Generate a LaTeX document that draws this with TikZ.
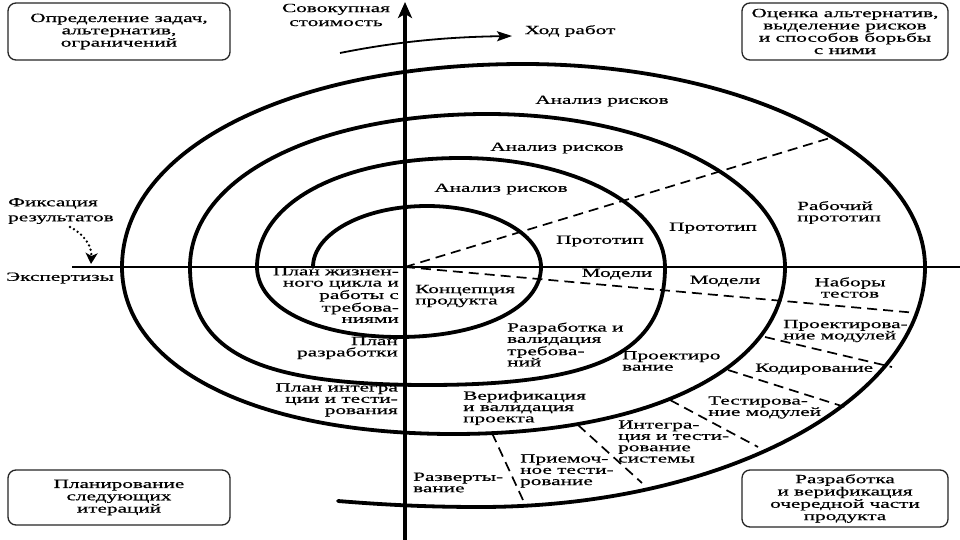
\documentclass[tikz,border=0pt]{standalone}
\usepackage{fontspec}
\setmainfont{Liberation Serif}[FakeStretch=1.7,FakeBold=0.6]
\usetikzlibrary{arrows.meta}
\begin{document}
\begin{tikzpicture}[x=1pt,y=-1pt,
  lbl/.style={inner sep=0pt, font=\fontsize{12.5}{11.3}\selectfont},
  boxnode/.style={draw=black!85, line width=1.3pt, rounded corners=8pt, inner sep=0pt, align=center, font=\fontsize{12.5}{12.3}\selectfont},
  spiral/.style={line width=3.8pt, line cap=round, line join=round},
  dsh/.style={line width=1.7pt, dash pattern=on 10pt off 6pt}
]
\useasboundingbox (0,0) rectangle (960,540);
\fill[white] (0,0) rectangle (960,540);

% corner boxes
\node[boxnode, minimum width=222pt, minimum height=57pt] (bTL) at (119,31.5) {Определение задач,\\альтернатив,\\ограничений};
\node[boxnode, minimum width=206pt, minimum height=57pt] (bTR) at (845,31.5) {Оценка альтернатив,\\выделение рисков\\и способов борьбы\\с ними};
\node[boxnode, minimum width=222pt, minimum height=55pt] (bBL) at (119,497.5) {Планирование\\следующих\\итераций};
\node[boxnode, minimum width=206pt, minimum height=57pt] (bBR) at (845,498.5) {Разработка\\и верификация\\очередной части\\продукта};

% axes
\coordinate (hL) at (72,267);
\coordinate (hR) at (960,267);
\draw[line width=1.1pt] (hL) -- (hR);
\coordinate (axB) at (405,540);
\coordinate (axT) at (405,2);
\draw[line width=3.2pt, -{Stealth[width=14pt,length=16pt,inset=4pt]}] (axB) -- (axT);

% spiral
\draw[spiral] (313,267)
  .. controls (313,233.3) and (364,206) .. (427,206)
  .. controls (490,206) and (541,233.3) .. (541,267)
  .. controls (541,307.6) and (481.4,337) .. (399,337)
  .. controls (316.6,337) and (257,307.6) .. (257,267)
  .. controls (257,203) and (340,158) .. (461,158)
  .. controls (573.7,158) and (665,206.8) .. (665,267)
  .. controls (665,352) and (598.5,385) .. (427.5,385)
  .. controls (256.5,385) and (190,352) .. (190,267)
  .. controls (190,178) and (315,114) .. (487.5,114)
  .. controls (651.8,114) and (785,182.5) .. (785,267)
  .. controls (785,367.2) and (652.4,434) .. (453.5,434)
  .. controls (254.6,434) and (122,367.2) .. (122,267)
  .. controls (122,149) and (290,64) .. (523.5,64)
  .. controls (745.2,64) and (925,154.9) .. (925,267)
  .. controls (925,399) and (724.75,507) .. (480,507)
  .. controls (420,507) and (375,504) .. (338,501);

% dashed sector lines
\coordinate (O) at (405,267);
\coordinate (d1) at (830,138);
\coordinate (d2) at (917,313);
\coordinate (d3a) at (765,337); \coordinate (d3b) at (892,367);
\coordinate (d4a) at (728,370); \coordinate (d4b) at (848,408);
\coordinate (d5a) at (670,400); \coordinate (d5b) at (758,447);
\coordinate (d6a) at (578,425); \coordinate (d6b) at (642,483);
\coordinate (d7a) at (492,433); \coordinate (d7b) at (523,500);
\draw[dsh] (O) -- (d1);
\draw[dsh] (O) -- (d2);
\draw[dsh] (d3a) -- (d3b);
\draw[dsh] (d4a) -- (d4b);
\draw[dsh] (d5a) -- (d5b);
\draw[dsh] (d6a) -- (d6b);
\draw[dsh] (d7a) -- (d7b);

% top labels and arrow
\node[lbl, align=center, font=\fontsize{12.5}{14}\selectfont] (sov) at (336,15) {Совокупная\\стоимость};
\node[lbl] (hod) at (570,31) {Ход работ};
\coordinate (hs) at (340,53);
\coordinate (he) at (512,36);
\draw[line width=1.8pt, -{Stealth[width=10pt,length=15pt,inset=3pt]}] (hs) .. controls (400,41) and (450,37) .. (he);

% left labels
\node[lbl, align=left, anchor=west, font=\fontsize{12.5}{15}\selectfont] (fix) at (8,211) {Фиксация\\результатов};
\node[lbl, anchor=west] (exp) at (6,278) {Экспертизы};
\coordinate (fs) at (70,227);
\coordinate (fe) at (91,264);
\draw[line width=2.6pt, line cap=round, dash pattern=on 0pt off 4.5pt, -{Stealth[width=12pt,length=11pt,inset=3pt]}] (fs) .. controls (84,234) and (92,246) .. (fe);

% spiral labels
\node[lbl] (ar1) at (602,101) {Анализ рисков};
\node[lbl] (ar2) at (557,148) {Анализ рисков};
\node[lbl] (ar3) at (501,189) {Анализ рисков};
\node[lbl] (pr1) at (600,241) {Прототип};
\node[lbl] (pr2) at (713,228) {Прототип};
\node[lbl, align=left, anchor=west] (rp) at (797,212.5) {Рабочий\\прототип};
\node[lbl] (m1) at (617,274) {Модели};
\node[lbl] (m2) at (725,281) {Модели};
\node[lbl, align=center] (nt) at (850,287.5) {Наборы\\тестов};
\node[lbl, align=left, anchor=west] (kp) at (415,296) {Концепция\\продукта};
\node[lbl, align=right, anchor=east] (pzh) at (399,295) {План жизнен-\\ного цикла и\\работы с\\требова-\\ниями};
\node[lbl, align=right, anchor=east] (praz) at (398,348) {План\\разработки};
\node[lbl, align=right, anchor=east] (pint) at (398,400) {План интегра\\ции и тести-\\рования};
\node[lbl, align=left, anchor=west] (rvt) at (507,344.5) {Разработка и\\валидация\\требова-\\ний};
\node[lbl, align=left, anchor=west] (pv) at (622,361) {Проектиро\\вание};
\node[lbl, align=left, anchor=west] (vvp) at (463,408) {Верификация\\и валидация\\проекта};
\node[lbl, align=left, anchor=west] (rzv) at (413,482.5) {Разверты-\\вание};
\node[lbl, align=left, anchor=west] (pt) at (520,471) {Приемоч-\\ное тести-\\рование};
\node[lbl, align=left, anchor=west] (its) at (618,441.5) {Интегра-\\ция и тести-\\рование\\системы};
\node[lbl, align=left, anchor=west] (tm) at (708,407.5) {Тестирова-\\ние модулей};
\node[lbl, anchor=west] (kod) at (755,369) {Кодирование};
\node[lbl, align=left, anchor=west] (pm) at (783,331) {Проектирова-\\ние модулей};
\end{tikzpicture}
\end{document}
